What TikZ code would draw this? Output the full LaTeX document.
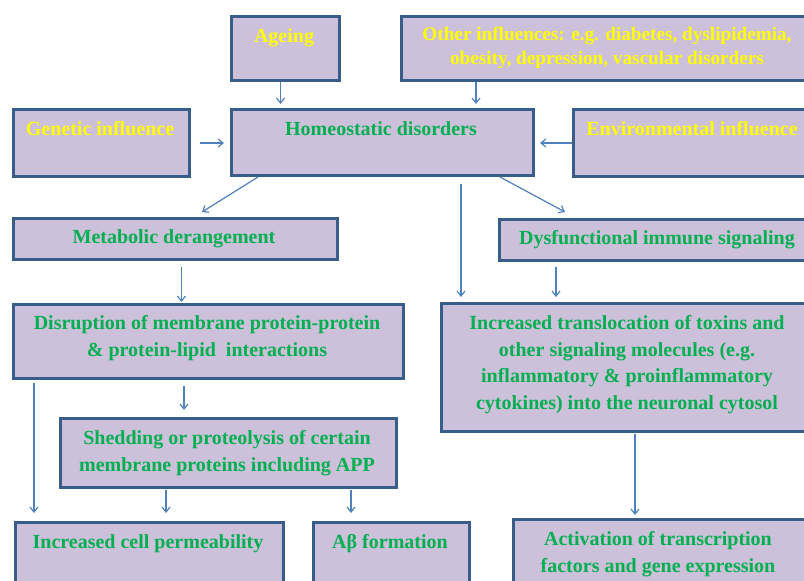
\documentclass[tikz,border=0pt]{standalone}
\usepackage{fontspec}
\setmainfont{Liberation Serif}
\usetikzlibrary{arrows.meta,calc}
\definecolor{boxfill}{RGB}{204,192,218}
\definecolor{boxline}{RGB}{56,93,138}
\definecolor{arrowblue}{RGB}{79,129,189}
\definecolor{txtyellow}{RGB}{255,255,0}
\definecolor{txtgreen}{RGB}{0,176,80}
\tikzset{
  box/.style={draw=boxline, fill=boxfill, line width=3pt, rectangle, anchor=north west, inner sep=0pt},
  lbl/.style={anchor=base, align=center, inner sep=0pt, font=\fontsize{20}{26.5}\selectfont\bfseries},
  ylw/.style={lbl, text=txtyellow},
  grn/.style={lbl, text=txtgreen},
  arr/.style={draw=arrowblue, line width=1.2pt, -{Straight Barb[length=5pt,width=8pt]}}
}
\begin{document}
\begin{tikzpicture}[x=1pt,y=1pt]
\useasboundingbox (0,0) rectangle (804,-581);
\clip (0,0) rectangle (804,-581);
\fill[white] (0,0) rectangle (804,-581);
% boxes
\node[box, minimum width=108, minimum height=64] (ageing) at (230,-15) {};
\node[box, minimum width=414, minimum height=64] (other) at (400,-15) {};
\node[box, minimum width=176, minimum height=67] (genetic) at (12,-108) {};
\node[box, minimum width=302, minimum height=66] (homeo) at (230,-108) {};
\node[box, minimum width=240, minimum height=67] (env) at (572,-108) {};
\node[box, minimum width=324, minimum height=41] (metab) at (12,-217) {};
\node[box, minimum width=318, minimum height=41] (dysf) at (498,-218) {};
\node[box, minimum width=390, minimum height=74] (disr) at (12,-303) {};
\node[box, minimum width=374, minimum height=128] (incr) at (440,-302) {};
\node[box, minimum width=336, minimum height=69] (shed) at (59,-417) {};
\node[box, minimum width=268, minimum height=80] (perm) at (14,-521) {};
\node[box, minimum width=156, minimum height=80] (abeta) at (312,-521) {};
\node[box, minimum width=293, minimum height=80] (activ) at (512,-518) {};
% texts (base anchor = last line's baseline)
\node[ylw] (ageing-t) at (284,-42) {Ageing};
\node[ylw, font=\fontsize{19.2}{23.5}\selectfont\bfseries] (other-t) at (607,-64) {Other influences: e.g. diabetes, dyslipidemia,\\obesity, depression, vascular disorders};
\node[ylw] (genetic-t) at (100,-135) {Genetic influence};
\node[grn] (homeo-t) at (381,-135) {Homeostatic disorders};
\node[ylw] (env-t) at (692,-135) {Environmental influence};
\node[grn] (metab-t) at (174,-243) {Metabolic derangement};
\node[grn] (dysf-t) at (657,-244) {Dysfunctional immune signaling};
\node[grn] (disr-t) at (207,-356) {Disruption of membrane protein-protein\\\& protein-lipid\ \ interactions};
\node[grn] (incr-t) at (627,-409) {Increased translocation of toxins and\\other signaling molecules (e.g.\\inflammatory \& proinflammatory\\cytokines) into the neuronal cytosol};
\node[grn] (shed-t) at (227,-471) {Shedding or proteolysis of certain\\membrane proteins including APP};
\node[grn] (perm-t) at (148,-548) {Increased cell permeability};
\node[grn] (abeta-t) at (390,-548) {Aβ formation};
\node[grn] (activ-t) at (658,-572) {Activation of transcription\\factors and gene expression};
% connectors
\draw[arr, shorten >=4pt] ([xshift=-5pt]ageing.south) -- ([xshift=-5pt]ageing.south |- homeo.north);
\draw[arr, shorten >=4pt] ([xshift=-59pt]homeo.north east |- other.south) -- ([xshift=-59pt]homeo.north east);
\draw[arr, shorten <=9pt, shorten >=6pt] (genetic.east) -- (genetic.east -| homeo.west);
\draw[arr, shorten >=5pt] (env.west) -- (env.west -| homeo.east);
\draw[arr] ([xshift=28pt]homeo.south west) -- ([shift={(190pt,5pt)}]metab.north west);
\draw[arr] ([xshift=-35pt]homeo.south east) -- ([shift={(67pt,6pt)}]dysf.north west);
\draw[arr, shorten >=5pt] ([shift={(231pt,-7pt)}]homeo.south west) -- ([xshift=21pt]incr.north west);
\draw[arr, shorten >=1pt] ([shift={(6pt,-6pt)}]metab.south) -- ([xshift=6pt]metab.south |- disr.north);
\draw[arr, shorten >=5pt] ([shift={(58pt,-5pt)}]dysf.south west) -- ([xshift=58pt]dysf.south west |- incr.north);
\draw[arr, shorten >=8pt] ([shift={(22pt,-3pt)}]disr.south west) -- ([xshift=22pt]disr.south west |- perm.north);
\draw[arr, shorten >=7pt] ([shift={(172pt,-6pt)}]disr.south west) -- ([xshift=172pt]disr.south west |- shed.north);
\draw[arr, shorten >=8pt] ([shift={(107pt,-1pt)}]shed.south west) -- ([xshift=107pt]shed.south west |- perm.north);
\draw[arr, shorten >=8pt] ([shift={(292pt,-1pt)}]shed.south west) -- ([xshift=292pt]shed.south west |- abeta.north);
\draw[arr, shorten >=3pt] ([shift={(195pt,-1pt)}]incr.south west) -- ([xshift=195pt]incr.south west |- activ.north);
\end{tikzpicture}
\end{document}
